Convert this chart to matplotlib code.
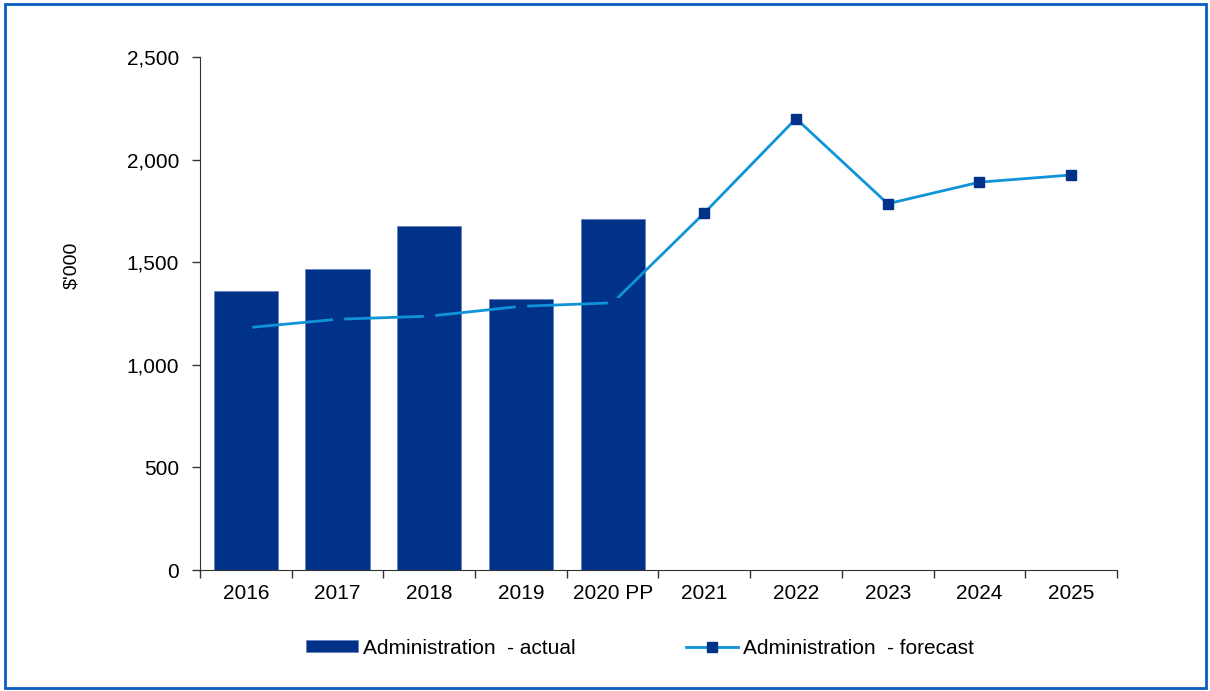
import numpy as np
import matplotlib.pyplot as plt
from matplotlib.patches import Rectangle
from matplotlib.ticker import FuncFormatter, FixedLocator

plt.rcParams['font.family'] = ['Liberation Sans', 'DejaVu Sans']

years = ['2016', '2017', '2018', '2019', '2020 PP', '2021', '2022', '2023', '2024', '2025']
actual = [1360, 1465, 1675, 1320, 1710]
forecast = [1180, 1222, 1237, 1285, 1302, 1740, 2200, 1785, 1890, 1925]

navy = '#003289'
light = '#0f93d9'

fig = plt.figure(figsize=(12.1, 6.91), dpi=100)
ax = fig.add_axes([0.1653, 0.1751, 0.7578, 0.7424])

x = np.arange(len(years))
bars = ax.bar(x[:len(actual)], actual, width=0.7, color=navy, edgecolor='#5a78b8',
              linewidth=0.4, label='Administration  - actual', zorder=2)
line, = ax.plot(x, forecast, color=light, lw=2, marker='s', ms=7, mfc=navy, mec=navy,
                label='Administration  - forecast', zorder=3)

ax.set_xlim(-0.5, len(years) - 0.5)
ax.set_ylim(0, 2500)
ax.set_yticks(np.arange(0, 2501, 500))
ax.yaxis.set_major_formatter(FuncFormatter(lambda v, p: f'{int(v):,}'))
ax.set_xticks(x)
ax.set_xticklabels(years)
ax.tick_params(axis='x', length=0, pad=10, labelsize=15)
# category separators on the x axis
ax.xaxis.set_minor_locator(FixedLocator(np.arange(-0.5, len(years), 1.0)))
ax.tick_params(axis='x', which='minor', length=6, width=1, color='#333333')
ax.tick_params(axis='y', length=6, width=1, color='#333333', labelsize=15, pad=9)
for s in ['top', 'right']:
    ax.spines[s].set_visible(False)
for s in ['left', 'bottom']:
    ax.spines[s].set_color('#333333')
ax.set_ylabel("$'000", fontsize=14)
ax.yaxis.set_label_coords(-0.131, 0.593)

fig.legend([bars, line], ['Administration  - actual', 'Administration  - forecast'],
           loc='center', bbox_to_anchor=(0.529, 0.062), ncol=2, frameon=False,
           fontsize=15, columnspacing=5.3, handlelength=2.5, handletextpad=0.25,
           handleheight=0.5)

fig.add_artist(Rectangle((0.004, 0.004), 0.993, 0.99, transform=fig.transFigure,
                         fill=False, edgecolor='#0a5cbf', lw=2))

fig.savefig('out.png', dpi=100)
